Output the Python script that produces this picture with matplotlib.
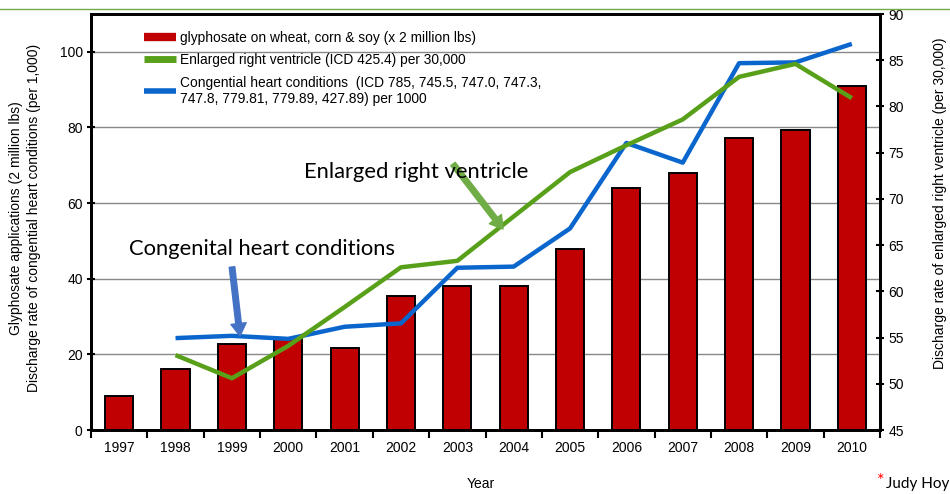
import matplotlib
matplotlib.use("Agg")
import matplotlib.pyplot as plt
from matplotlib.lines import Line2D
from matplotlib import font_manager
import numpy as np

years = ["1997", "1998", "1999", "2000", "2001", "2002", "2003", "2004",
         "2005", "2006", "2007", "2008", "2009", "2010"]
glyphosate = [9.0, 16.1, 22.7, 24.0, 21.7, 35.4, 38.1, 38.1, 47.9, 64.0, 68.0, 77.2, 79.4, 91.0]
congenital_years = years[1:]
congenital = [24.3, 24.9, 24.1, 27.3, 28.2, 42.9, 43.2, 53.3, 75.9, 70.7, 97.0, 97.2, 102.1]
ventricle_years = years[1:]
ventricle = [53.1, 50.6, 54.1, 58.3, 62.6, 63.3, 68.1, 72.9, 75.8, 78.6, 83.2, 84.6, 80.9]

left_ticks = [0, 20, 40, 60, 80, 100]
right_ticks = [45, 50, 55, 60, 65, 70, 75, 80, 85, 90]

FONT = "Liberation Sans"
plt.rcParams["font.family"] = [FONT, "DejaVu Sans"]

installed = {f.name for f in font_manager.fontManager.ttflist}
narrow = "Liberation Sans Narrow" if "Liberation Sans Narrow" in installed else "Lato"

W, H = 950, 494
fig = plt.figure(figsize=(W / 100, H / 100), dpi=100)

def fx(px):
    return px / W

def fy(py):
    return 1 - py / H

ax = fig.add_axes([fx(91), fy(430), fx(880) - fx(91), fy(14) - fy(430)])
ax2 = ax.twinx()

red = "#C00000"
green = "#59A01A"
blue = "#0A66CC"

x = np.arange(len(years))
ax.bar(x, glyphosate, width=0.5, color=red, edgecolor="black", linewidth=1.4, zorder=2)
cx = [years.index(y) for y in congenital_years]
ax.plot(cx, congenital, color=blue, linewidth=3.2, zorder=3, solid_capstyle="butt")
vx = [years.index(y) for y in ventricle_years]
ax2.plot(vx, ventricle, color=green, linewidth=3.2, zorder=3, solid_capstyle="butt")

ax.set_xlim(-0.5, len(years) - 0.5)
ax.set_ylim(0, 110)
ax2.set_ylim(45, 90)

ax.set_yticks(left_ticks)
ax.set_yticklabels([str(t) for t in left_ticks], fontsize=10)
ax2.set_yticks(right_ticks)
ax2.set_yticklabels([str(t) for t in right_ticks], fontsize=10)

# x ticks at category boundaries, labels at centers
ax.set_xticks(np.arange(len(years) + 1) - 0.5)
ax.set_xticklabels([])
ax.set_xticks(x, minor=True)
ax.set_xticklabels(years, minor=True, fontsize=10)
ax.tick_params(axis="x", which="minor", length=0, pad=8)
ax.tick_params(axis="x", which="major", length=6, width=1.5, direction="out")
ax.tick_params(axis="y", length=6, width=1.5, direction="inout", pad=3)
ax2.tick_params(axis="y", length=6, width=1.5, direction="inout", pad=3)

ax.yaxis.grid(True, color="#888888", linewidth=1)
ax.set_axisbelow(True)

for a in (ax, ax2):
    for s in a.spines.values():
        s.set_linewidth(2)
        s.set_color("black")

# Axis labels
fig.text(fx(16), fy(218), "Glyphosate applications (2 million lbs)", rotation=90,
         ha="center", va="center", fontsize=10)
fig.text(fx(34), fy(218), "Discharge rate of congential heart conditions (per 1,000)",
         rotation=90, ha="center", va="center", fontsize=10)
fig.text(fx(940), fy(203), "Discharge rate of enlarged right ventricle (per 30,000)",
         rotation=90, ha="center", va="center", fontsize=10)
fig.text(fx(481), fy(484), "Year", ha="center", va="center", fontsize=10)

# Legend
handles = [
    Line2D([0], [0], color=red, linewidth=6, solid_capstyle="butt"),
    Line2D([0], [0], color=green, linewidth=5, solid_capstyle="butt"),
    Line2D([0], [0], color=blue, linewidth=4, solid_capstyle="butt"),
]
labels = [
    "glyphosate on wheat, corn & soy (x 2 million lbs)",
    "Enlarged right ventricle (ICD 425.4) per 30,000",
    "Congential heart conditions  (ICD 785, 745.5, 747.0, 747.3,\n747.8, 779.81, 779.89, 427.89) per 1000",
]
leg = ax2.legend(handles, labels, loc="upper left", bbox_to_anchor=(fx(144), fy(31)),
                 bbox_transform=fig.transFigure, frameon=False, fontsize=9.9,
                 borderpad=0, handlelength=2.35, handletextpad=0.3, labelspacing=0.6,
                 borderaxespad=0)

# Annotations
afont = ["Lato", "DejaVu Sans"]
fig.text(fx(416), fy(172), "Enlarged right ventricle", ha="center", va="center",
         fontsize=15.8, family=afont)
fig.text(fx(262), fy(249), "Congenital heart conditions", ha="center", va="center",
         fontsize=15.8, family=afont)

ax2.annotate("", xy=(fx(503), fy(229)), xytext=(fx(453), fy(164)),
             xycoords="figure fraction", textcoords="figure fraction",
             arrowprops=dict(arrowstyle="simple,head_length=0.45,head_width=0.55,tail_width=0.2",
                             color="#70AD47", mutation_scale=20, shrinkA=0, shrinkB=0))
ax2.annotate("", xy=(fx(240), fy(336)), xytext=(fx(232), fy(267)),
             xycoords="figure fraction", textcoords="figure fraction",
             arrowprops=dict(arrowstyle="simple,head_length=0.45,head_width=0.55,tail_width=0.2",
                             color="#4472C4", mutation_scale=20, shrinkA=0, shrinkB=0))

# Credit
fig.text(fx(949), fy(484), "Judy Hoy", color="black", ha="right", va="center",
         fontsize=11, family=[narrow, "DejaVu Sans"])
fig.text(fx(884), fy(481), "*", color="red", ha="right", va="center", fontsize=13,
         family=afont)

# Decorative top rule
fig.add_artist(Line2D([0, 1], [fy(9), fy(9)], transform=fig.transFigure,
                      color="#70AD47", linewidth=1))

fig.savefig("out.png", dpi=100)
